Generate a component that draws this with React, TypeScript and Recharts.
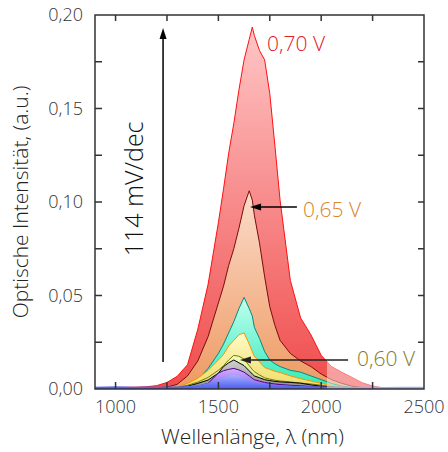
import { AreaChart, Area, XAxis, YAxis, ReferenceLine, ReferenceDot, ReferenceArea, Label } from 'recharts'

// wavelength grid (nm)
const WAVELENGTH = [900, 1000, 1100, 1150, 1200, 1250, 1300, 1350, 1400, 1450, 1500, 1525, 1550, 1575, 1600, 1625, 1650, 1665, 1675, 1700, 1725, 1750, 1775, 1800, 1850, 1900, 1950, 2000, 2050, 2100, 2150, 2200, 2250, 2300, 2400, 2500]

// optical intensity per bias step (a.u.)
const V070 = [0.0005, 0.0008, 0.001, 0.0012, 0.0018, 0.0035, 0.0068, 0.013, 0.032, 0.056, 0.089, 0.107, 0.126, 0.142, 0.16, 0.176, 0.187, 0.1935, 0.189, 0.181, 0.176, 0.158, 0.13, 0.101, 0.058, 0.038, 0.029, 0.018, 0.012, 0.009, 0.0062, 0.0033, 0.0016, 0.0006, 0.0003, 0.0002]
const V065 = [0.0003, 0.0004, 0.0005, 0.0006, 0.0008, 0.001, 0.0025, 0.007, 0.015, 0.028, 0.046, 0.055, 0.066, 0.075, 0.086, 0.098, 0.106, 0.101, 0.093, 0.078, 0.06, 0.044, 0.034, 0.026, 0.019, 0.015, 0.012, 0.008, 0.005, 0.003, 0.0015, 0.0008, 0.0004, 0.0002, 0.0001, 0.0001]
const TEAL = [0.0002, 0.0003, 0.0003, 0.0004, 0.0005, 0.0007, 0.001, 0.002, 0.005, 0.011, 0.019, 0.024, 0.03, 0.036, 0.043, 0.049, 0.043, 0.039, 0.033, 0.027, 0.02, 0.0155, 0.0135, 0.012, 0.01, 0.009, 0.007, 0.005, 0.003, 0.0015, 0.0008, 0.0004, 0.0002, 0.0001, 0.0001, 0.0001]
const YELLOW = [0.0002, 0.0002, 0.0003, 0.0003, 0.0004, 0.0006, 0.001, 0.003, 0.0058, 0.01, 0.0155, 0.0185, 0.023, 0.026, 0.029, 0.03, 0.024, 0.02, 0.0175, 0.0145, 0.0115, 0.0105, 0.0095, 0.0088, 0.007, 0.0055, 0.0043, 0.003, 0.002, 0.001, 0.0006, 0.0003, 0.0002, 0.0001, 0.0001, 0.0001]
const V060 = [0.0002, 0.0002, 0.0002, 0.0003, 0.0003, 0.0005, 0.0009, 0.002, 0.0037, 0.0062, 0.01, 0.0125, 0.0155, 0.018, 0.0175, 0.016, 0.0125, 0.0105, 0.0093, 0.0075, 0.006, 0.0053, 0.0047, 0.0043, 0.0038, 0.0032, 0.0027, 0.002, 0.0014, 0.0009, 0.0005, 0.0003, 0.0002, 0.0001, 0.0001, 0.0001]
const GREY = [0.0001, 0.0001, 0.0002, 0.0002, 0.0003, 0.0004, 0.0007, 0.0015, 0.003, 0.0048, 0.0085, 0.012, 0.014, 0.0155, 0.014, 0.0125, 0.0097, 0.008, 0.007, 0.006, 0.005, 0.0045, 0.0041, 0.0038, 0.0035, 0.0031, 0.0022, 0.0015, 0.001, 0.0006, 0.0004, 0.0002, 0.0001, 0.0001, 0.0001, 0.0001]
const PURPLE = [0.0001, 0.0001, 0.0001, 0.0002, 0.0002, 0.0003, 0.0005, 0.0009, 0.0015, 0.003, 0.0085, 0.0098, 0.0105, 0.011, 0.0102, 0.009, 0.007, 0.0057, 0.005, 0.0042, 0.0035, 0.003, 0.0027, 0.0024, 0.002, 0.0017, 0.0013, 0.001, 0.0007, 0.0005, 0.0003, 0.0002, 0.0001, 0.0001, 0.0001, 0.0001]
const BLUE = [0.0012, 0.0015, 0.0012, 0.0014, 0.0012, 0.0013, 0.0014, 0.0016, 0.002, 0.0032, 0.005, 0.006, 0.007, 0.0075, 0.007, 0.006, 0.0045, 0.004, 0.0035, 0.003, 0.0026, 0.0024, 0.0022, 0.002, 0.0018, 0.0016, 0.0015, 0.0013, 0.0012, 0.0013, 0.0011, 0.0012, 0.0013, 0.0011, 0.0012, 0.0012]

const X_TICKS = [1000, 1250, 1500, 1750, 2000, 2250, 2500]
const Y_TICKS = [0, 0.025, 0.05, 0.075, 0.1, 0.125, 0.15, 0.175, 0.2]
const X_MIN = 900
const X_MAX = 2500
const Y_MAX = 0.2

const W = 448
const H = 452
const MARGIN = { top: 15, right: 24, bottom: 0, left: 0 }
const Y_AXIS_W = 95
const X_AXIS_H = 63

const data = WAVELENGTH.map((w, i) => ({
  w,
  v070: V070[i],
  v065: V065[i],
  teal: TEAL[i],
  yellow: YELLOW[i],
  v060: V060[i],
  grey: GREY[i],
  purple: PURPLE[i],
  blue: BLUE[i],
}))

// key, stroke, gradient top, gradient bottom
const SERIES = [
  ['v070', '#ff1010', '#ffc6c6', '#f04c4c'],
  ['v065', '#7a0c0c', '#fbdccb', '#ee9a62'],
  ['teal', '#008c80', '#c2fff0', '#2eeab6'],
  ['yellow', '#ff9000', '#fffbc8', '#eedc66'],
  ['v060', '#7a7a00', '#f2fbc0', '#d4de6a'],
  ['grey', '#000000', '#d0d0d0', '#8c8c8c'],
  ['purple', '#50008c', '#d0b0ff', '#8c5cf0'],
  ['blue', '#4a58f0', '#a8b0ff', '#4a5cf0'],
]

const FONT = '"Open Sans", sans-serif'
const AXIS = '#333333'
const TXT = '#333'

const fmtY = (v: number) => v.toFixed(2).replace('.', ',')

function LeftTick({ x, y, payload }: any) {
  const v = payload.value
  const major = Math.abs(v / 0.05 - Math.round(v / 0.05)) < 1e-6
  if (!major) return <g />
  return (
    <text x={x} y={y} dy="0.35em" textAnchor="end" fontSize={18} fontWeight={300} fontFamily={FONT} fill={TXT}>
      {fmtY(v)}
    </text>
  )
}

function BottomTick({ x, y, payload }: any) {
  const v = payload.value
  if (v % 500 !== 0) return <g />
  return (
    <text x={x} y={y} dy="0.35em" textAnchor="middle" fontSize={18} fontWeight={300} fontFamily={FONT} fill={TXT}>
      {v}
    </text>
  )
}

// box frame with inward ticks on all four sides, laid over the chart
function Frame() {
  const left = MARGIN.left + Y_AXIS_W
  const top = MARGIN.top
  const right = W - MARGIN.right
  const bottom = H - MARGIN.bottom - X_AXIS_H
  const px = (t: number) => left + ((t - X_MIN) / (X_MAX - X_MIN)) * (right - left)
  const py = (t: number) => bottom - (t / Y_MAX) * (bottom - top)
  let d = `M${left},${top}H${right}V${bottom}H${left}Z`
  X_TICKS.forEach((t) => {
    d += `M${px(t)},${top}v6M${px(t)},${bottom}v-7`
  })
  Y_TICKS.forEach((t) => {
    d += `M${left},${py(t)}h7M${right},${py(t)}h-6`
  })
  return (
    <svg width={W} height={H} style={{ position: 'absolute', left: 0, top: 0, pointerEvents: 'none' }}>
      <path d={d} stroke={AXIS} strokeWidth={1.5} fill="none" />
    </svg>
  )
}

function arrow(color: string) {
  return (p: any) => {
    const { x1, y1, x2, y2 } = p
    const a = Math.atan2(y2 - y1, x2 - x1)
    const L = 11
    const Wd = 3.5
    const bx = x2 - L * Math.cos(a)
    const by = y2 - L * Math.sin(a)
    const ox = -Math.sin(a) * Wd
    const oy = Math.cos(a) * Wd
    return (
      <g>
        <line x1={x1} y1={y1} x2={bx} y2={by} stroke={color} strokeWidth={1.5} />
        <polygon points={`${x2},${y2} ${bx + ox},${by + oy} ${bx - ox},${by - oy}`} fill={color} />
      </g>
    )
  }
}

function textAt(str: string, color: string, size: number, anchor: string, rotate = 0) {
  return (p: any) => (
    <text
      x={p.cx}
      y={p.cy}
      fill={color}
      fontSize={size}
      fontWeight={300}
      fontFamily={FONT}
      textAnchor={anchor}
      transform={rotate ? `rotate(${rotate} ${p.cx} ${p.cy})` : undefined}
      dy={rotate ? '0.35em' : 0}
    >
      {str}
    </text>
  )
}

export default function App() {
  return (
    <div style={{ position: 'absolute', left: 0, top: 0, width: W, height: H }}>
      <AreaChart width={W} height={H} data={data} margin={MARGIN}>
        <defs>
          {SERIES.map(([k, , top, bot]) => (
            <linearGradient key={k} id={`g-${k}`} x1="0" y1="0" x2="0" y2="1">
              <stop offset="0%" stopColor={top} />
              <stop offset="100%" stopColor={bot} />
            </linearGradient>
          ))}
        </defs>
        {SERIES.map(([k, stroke]) => (
          <Area
            key={k}
            dataKey={k}
            type="linear"
            stroke={k === 'blue' ? 'none' : stroke}
            strokeWidth={1}
            fill={`url(#g-${k})`}
            fillOpacity={1}
            isAnimationActive={false}
            dot={false}
            activeDot={false}
          />
        ))}
        <ReferenceArea x1={2028} x2={2500} y1={0} y2={0.0155} fill="#ffffff" fillOpacity={0.45} stroke="none" />
        <ReferenceLine segment={[{ x: 1231, y: 0.0144 }, { x: 1231, y: 0.193 }]} shape={arrow('#000')} />
        <ReferenceLine segment={[{ x: 1882, y: 0.0973 }, { x: 1654, y: 0.0973 }]} shape={arrow('#000')} />
        <ReferenceLine segment={[{ x: 2131, y: 0.0155 }, { x: 1605, y: 0.0155 }]} shape={arrow('#222')} />
        <ReferenceDot x={1737} y={0.1807} shape={textAt('0,70 V', '#e0202a', 21, 'start')} />
        <ReferenceDot x={1912} y={0.092} shape={textAt('0,65 V', '#d9852a', 21, 'start')} />
        <ReferenceDot x={2174} y={0.0123} shape={textAt('0,60 V', '#857a2a', 21, 'start')} />
        <ReferenceDot x={1090} y={0.107} shape={textAt('114 mV/dec', '#111', 25, 'middle', -90)} />
        <XAxis
          dataKey="w"
          type="number"
          domain={[X_MIN, X_MAX]}
          allowDataOverflow
          ticks={X_TICKS}
          interval={0}
          height={X_AXIS_H}
          tickSize={0}
          tickMargin={18}
          tickLine={false}
          axisLine={false}
          tick={<BottomTick />}
        >
          <Label
            content={({ viewBox }: any) => (
              <text x={viewBox.x + viewBox.width / 2 - 7} y={viewBox.y + 55} textAnchor="middle" fontSize={21} fontWeight={300} fontFamily={FONT} fill="#222">
                Wellenlänge, λ (nm)
              </text>
            )}
          />
        </XAxis>
        <YAxis
          domain={[0, Y_MAX]}
          allowDataOverflow
          ticks={Y_TICKS}
          interval={0}
          width={Y_AXIS_W}
          tickSize={0}
          tickMargin={12}
          tickLine={false}
          axisLine={false}
          tick={<LeftTick />}
        >
          <Label
            content={({ viewBox }: any) => {
              const cx = 21
              const cy = viewBox.y + viewBox.height / 2
              return (
                <text x={cx} y={cy} dy="0.35em" textAnchor="middle" transform={`rotate(-90 ${cx} ${cy})`} fontSize={21} fontWeight={300} fontFamily={FONT} fill="#222">
                  Optische Intensität, (a.u.)
                </text>
              )
            }}
          />
        </YAxis>
      </AreaChart>
      <Frame />
    </div>
  )
}
